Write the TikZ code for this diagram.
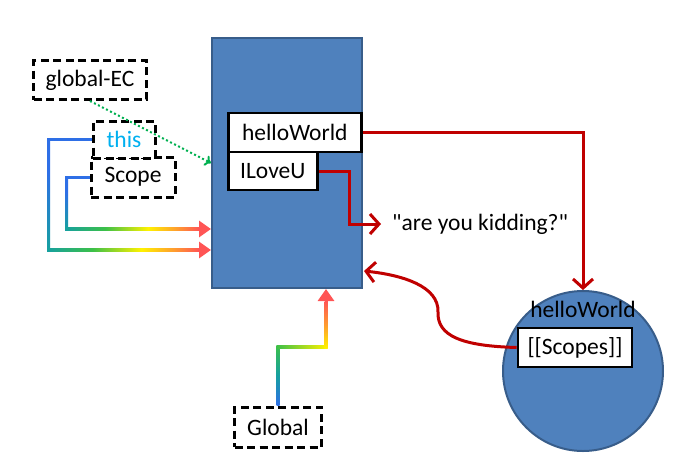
\documentclass[tikz,border=0pt]{standalone}
\usepackage{fontspec}
\setmainfont{Carlito}
\usepackage{xcolor}
\usetikzlibrary{calc, arrows.meta}

\definecolor{ecblue}{HTML}{4F81BD}
\definecolor{ecedge}{HTML}{385D8A}
\definecolor{linkred}{HTML}{C00000}
\definecolor{dotgreen}{HTML}{00B050}
\definecolor{thisblue}{HTML}{00B0F0}
\definecolor{gblue}{HTML}{2E6FE6}
\definecolor{gteal}{HTML}{16A0A0}
\definecolor{ggreen}{HTML}{3CC048}
\definecolor{gyellow}{HTML}{FFF200}
\definecolor{gorange}{HTML}{FF9A30}
\definecolor{gred}{HTML}{FF5555}

\pgfdeclarehorizontalshading{rainbowH}{100bp}{color(0bp)=(gteal); color(25bp)=(gteal); color(40bp)=(ggreen); color(56bp)=(gyellow); color(67bp)=(gorange); color(75bp)=(gred); color(100bp)=(gred)}
\pgfdeclareverticalshading{blueteal}{100bp}{color(0bp)=(gteal); color(25bp)=(gteal); color(60bp)=(gblue); color(100bp)=(gblue)}
\pgfdeclareverticalshading{bluegreen}{100bp}{color(0bp)=(gblue); color(25bp)=(gblue); color(50bp)=(gteal); color(75bp)=(ggreen); color(100bp)=(ggreen)}
\pgfdeclarehorizontalshading{greenyellow}{100bp}{color(0bp)=(ggreen); color(25bp)=(ggreen); color(75bp)=(gyellow); color(100bp)=(gyellow)}
\pgfdeclareverticalshading{yellowred}{100bp}{color(0bp)=(gyellow); color(25bp)=(gyellow); color(50bp)=(gorange); color(75bp)=(gred); color(100bp)=(gred)}

\begin{document}
\begin{tikzpicture}[x=1pt, y=-1pt,
		every node/.style={font=\fontsize{23.5}{28}\selectfont},
		ctxbox/.style={draw=ecedge, line width=2pt, fill=ecblue, minimum width=150, minimum height=250, inner sep=0},
		slot/.style={draw=black, line width=2.6pt, fill=white, inner sep=0, minimum height=38, anchor=west},
		tag/.style={draw=black, line width=3pt, dash pattern=on 8pt off 4.5pt, fill=white, inner sep=0, minimum height=39},
		link/.style={linkred, line width=3pt, -{Straight Barb[length=9pt, width=20pt, line width=3pt]}}]
		\def\lw{1.5}
		
		\useasboundingbox (0,0) rectangle (686,464);
		
		\node[ctxbox] (ctx) at (287,163) {};
		\node[slot, minimum width=133, minimum height=39] (hello) at (227,132.5) {helloWorld};
		\node[slot, minimum width=89] (ilu) at (227,171) {ILoveU};
		
		\node[circle, draw=ecedge, line width=2pt, fill=ecblue, minimum size=160] (fn) at (583,371) {};
		\node (fnname) at (583,309) {helloWorld};
		\node[slot, anchor=center, minimum width=114, minimum height=39] (scopes) at (575,347.5) {[[Scopes]]};
		
		\node[anchor=west, inner xsep=11pt] (kid) at (381,224) {\textquotedbl are you kidding?\textquotedbl};
		
		\node[tag, minimum width=113] (gec) at (90,80) {global-EC};
		\node[tag, minimum width=84, minimum height=40] (scope) at (133,177) {Scope};
		\node[tag, minimum width=62, minimum height=37, text=thisblue] (this) at (124,139.5) {this};
		\node[tag, minimum width=87, minimum height=40] (glob) at (278,427) {Global};
		
		\coordinate (thisIn) at ($(ctx.south west)+(0,-39)$);
		\coordinate (scopeIn) at ($(ctx.south west)+(0,-60)$);
		\coordinate (globIn) at ($(ctx.south)+(39,0)$);
		\coordinate (back) at ($(ctx.south east)+(1,-18)$);
		
		\draw[dotgreen, line width=2pt, dash pattern=on 2pt off 2.5pt, -{To[length=6pt, width=11pt]}] (gec.south) -- (ctx.west);
		
		\draw[link] (hello.east) -| (fn.north);
		\draw[link] (ilu.east) -- ++(31,0) |- (kid.west);
		\draw[link] (scopes.west) .. controls (462,346) and (437,336) .. (438,312)
			.. controls (439,286) and (402,275) .. (back);
		
		% rainbow lines into the context
		\coordinate (t1) at ($(this.west)+(-43,0)$);
		\coordinate (t2) at (t1 |- thisIn);
		\fill[gblue] ($(this.west)+(0,\lw)$) rectangle ($(t1)+(-\lw,-\lw)$);
		\shade[shading=blueteal] ($(t1)+(-\lw,0)$) rectangle ($(t2)+(\lw,0)$);
		\shade[shading=rainbowH] ($(t2)+(-\lw,-\lw)$) rectangle ($(thisIn)+(-12,\lw)$);
		\draw[gred, line width=3pt, -{Triangle[length=12pt, width=16pt]}] ($(thisIn)+(-13,0)$) -- (thisIn);
		
		\coordinate (s1) at ($(scope.west)+(-23,0)$);
		\coordinate (s2) at (s1 |- scopeIn);
		\fill[gblue] ($(scope.west)+(0,\lw)$) rectangle ($(s1)+(-\lw,-\lw)$);
		\shade[shading=blueteal] ($(s1)+(-\lw,0)$) rectangle ($(s2)+(\lw,0)$);
		\shade[shading=rainbowH] ($(s2)+(-\lw,-\lw)$) rectangle ($(scopeIn)+(-12,\lw)$);
		\draw[gred, line width=3pt, -{Triangle[length=12pt, width=16pt]}] ($(scopeIn)+(-13,0)$) -- (scopeIn);
		
		\coordinate (g1) at ($(glob.north)+(0,-59)$);
		\coordinate (g2) at (g1 -| globIn);
		\shade[shading=bluegreen] ($(glob.north)+(-\lw,0)$) rectangle ($(g1)+(\lw,-\lw)$);
		\shade[shading=greenyellow] ($(g1)+(-\lw,-\lw)$) rectangle ($(g2)+(\lw,\lw)$);
		\shade[shading=yellowred] ($(g2)+(-\lw,\lw)$) rectangle ($(globIn)+(\lw,12)$);
		\draw[gred, line width=3pt, -{Triangle[length=12pt, width=16pt]}] ($(globIn)+(0,13)$) -- (globIn);
	\end{tikzpicture}
\end{document}
